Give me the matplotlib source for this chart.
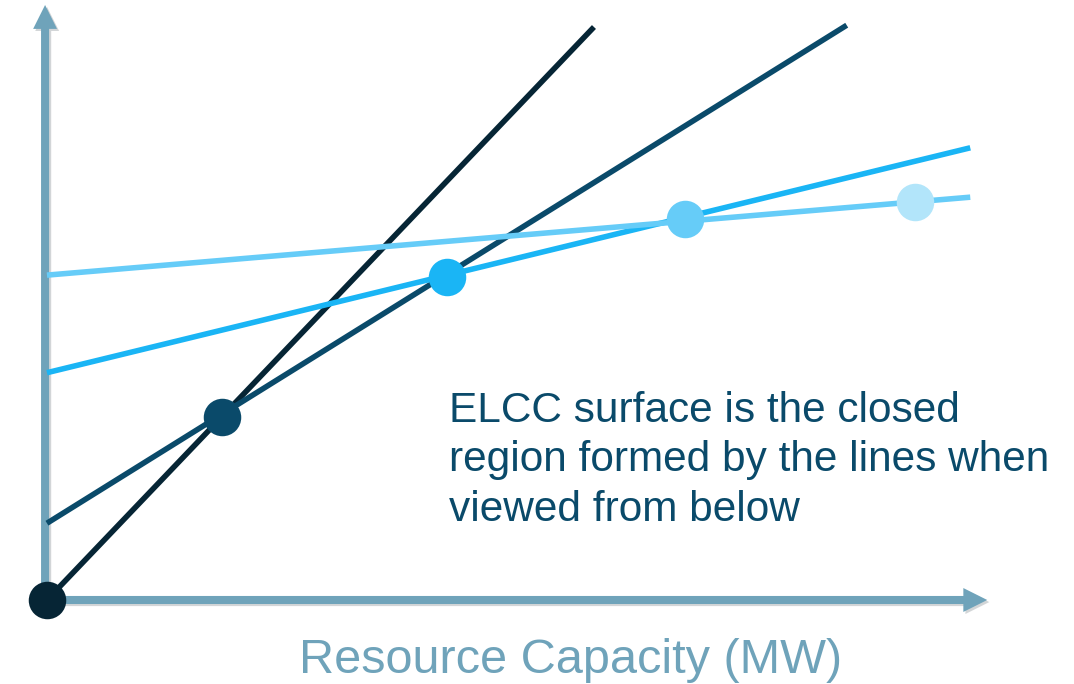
import matplotlib.pyplot as plt
import matplotlib.patheffects as pe

# Linhas de ELCC (inicio e fim de cada reta)
line_y_start = [0.0, 12.9, 38.2, 54.6]
line_x_end = [58.0, 84.8, 97.9, 97.9]
line_y_end = [96.3, 96.6, 76.0, 67.7]
line_colors = ["#062535", "#0a4a6a", "#1ab5f5", "#66ccf8"]

# Pontos de interseccao
point_x = [0.0, 18.6, 42.4, 67.7, 92.0]
point_y = [0.0, 30.8, 54.3, 64.0, 66.9]
point_colors = ["#062535", "#0a4a6a", "#1ab5f5", "#66ccf8", "#b2e5fa"]

axis_color = "#6fa3ba"
note = "ELCC surface is the closed\nregion formed by the lines when\nviewed from below"
xlabel = "Resource Capacity (MW)"

plt.rcParams["font.family"] = ["Liberation Sans", "DejaVu Sans"]

fig = plt.figure(figsize=(10.74, 6.84), dpi=100)
ax = fig.add_axes([0, 0, 1, 1])
ax.set_xlim(-4.98, 108.9)
ax.set_ylim(-14.12, 100.84)
ax.axis("off")

shadow = [pe.SimplePatchShadow(offset=(1.5, -1.5), alpha=0.2), pe.Normal()]

# Eixos com setas
arrow_style = "simple,head_length=0.86,head_width=0.86,tail_width=0.29"
ax.annotate("", xy=(-0.2, 100.0), xytext=(-0.2, 0),
            arrowprops=dict(arrowstyle=arrow_style, mutation_scale=20, color=axis_color,
                            lw=0, shrinkA=0, shrinkB=0, path_effects=shadow), zorder=1)
ax.annotate("", xy=(99.7, 0), xytext=(0, 0),
            arrowprops=dict(arrowstyle=arrow_style, mutation_scale=20, color=axis_color,
                            lw=0, shrinkA=0, shrinkB=0, path_effects=shadow), zorder=1)

# Retas
for y0, x1, y1, c in zip(line_y_start, line_x_end, line_y_end, line_colors):
    ax.plot([0, x1], [y0, y1], color=c, lw=4, solid_capstyle="butt", zorder=2)

# Pontos
for x, y, c in zip(point_x, point_y, point_colors):
    ax.plot(x, y, "o", ms=27, color=c, mec="none", zorder=3)

# Texto (va baseline alinha pela ultima linha)
ax.text(42.6, 13.3, note, color="#0a4a6a", fontsize=30.5, va="baseline", ha="left", linespacing=1.31)
ax.text(55.5, -12.3, xlabel, color=axis_color, fontsize=35, va="baseline", ha="center")

plt.savefig("out.png", dpi=100)
